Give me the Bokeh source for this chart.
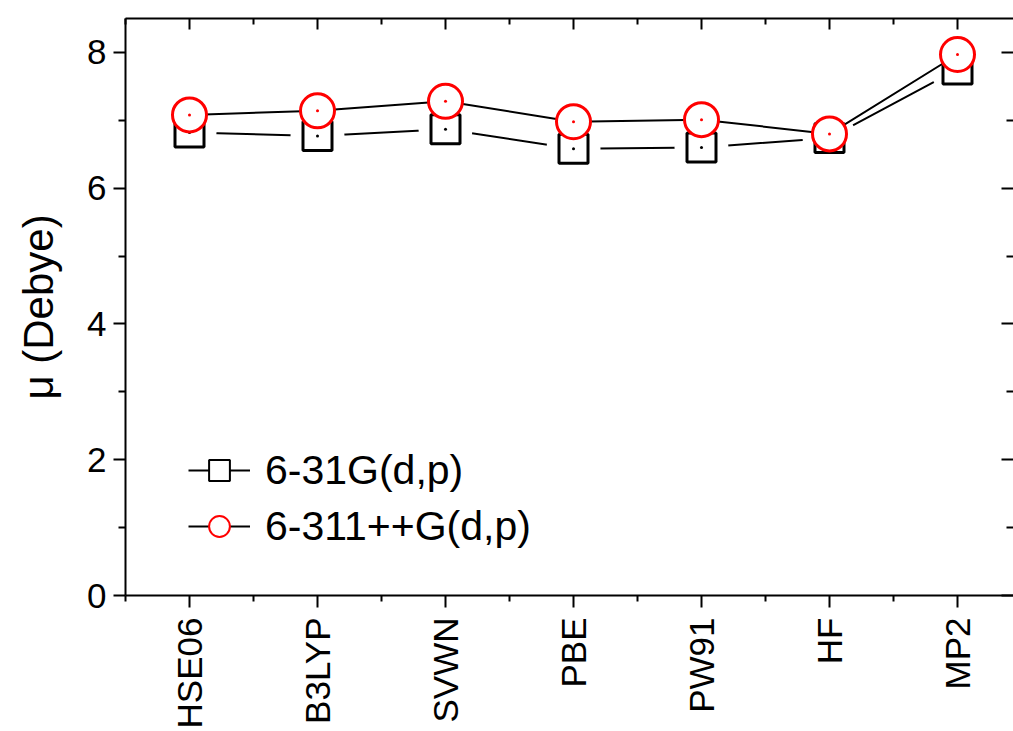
import numpy as np
from bokeh.plotting import figure
from bokeh.models import (FixedTicker, LinearAxis, Range1d, ColumnDataSource,
                          Legend, LegendItem, Grid)
from bokeh.embed import file_html
from bokeh.resources import INLINE

# ---- data ----
methods = ["HSE06", "B3LYP", "SVWN", "PBE", "PW91", "HF", "MP2"]
mu_631 = [6.82, 6.77, 6.87, 6.58, 6.60, 6.74, 7.75]
mu_6311 = [7.08, 7.14, 7.28, 6.98, 7.01, 6.80, 7.97]
series_names = ["6-31G(d,p)", "6-311++G(d,p)"]
y_ticks = [0, 2, 4, 6, 8]
y_minor = [1, 3, 5, 7]
y_title = "μ (Debye)"

FONT = "Liberation Sans"
xs = list(range(len(methods)))

p = figure(width=1013, height=731,
           x_range=Range1d(-0.5, 6.4375), y_range=Range1d(0, 8.5),
           output_backend="svg", toolbar_location=None,
           x_axis_location=None, y_axis_location=None,
           min_border_left=125, min_border_right=0,
           min_border_top=18, min_border_bottom=134)
p.outline_line_color = None
p.background_fill_color = "white"
p.border_fill_color = "white"
for g in p.select(type=Grid):
    g.visible = False

xticker = FixedTicker(ticks=xs, minor_ticks=[i - 0.5 for i in range(len(methods) + 1)])
yticker = FixedTicker(ticks=y_ticks, minor_ticks=y_minor)

common = dict(axis_line_width=2, axis_line_color="black",
              major_tick_line_width=2, minor_tick_line_width=2,
              major_tick_line_color="black", minor_tick_line_color="black")
hidden = dict(major_label_text_color=None, major_label_text_font_size="1px",
              major_label_standoff=0)

bottom = LinearAxis(ticker=xticker,
                    major_label_overrides={i: m for i, m in zip(xs, methods)},
                    major_label_orientation=np.pi / 2,
                    major_label_text_font=FONT, major_label_text_font_size="35px",
                    major_label_text_color="black",
                    major_tick_out=12, major_tick_in=0,
                    minor_tick_out=6, minor_tick_in=0,
                    major_label_standoff=10, **common)
p.add_layout(bottom, "below")

left = LinearAxis(ticker=yticker, major_tick_out=12, major_tick_in=0,
                  minor_tick_out=7, minor_tick_in=0,
                  major_label_standoff=7,
                  major_label_text_font=FONT, major_label_text_font_size="35px",
                  major_label_text_color="black",
                  axis_label=y_title, axis_label_text_font=FONT,
                  axis_label_text_font_size="42px",
                  axis_label_text_font_style="normal",
                  axis_label_text_color="black",
                  axis_label_standoff=22, **common)
p.add_layout(left, "left")

top = LinearAxis(ticker=xticker, major_tick_in=11, major_tick_out=0,
                 minor_tick_in=6, minor_tick_out=0, **hidden, **common)
p.add_layout(top, "above")

right = LinearAxis(ticker=yticker, major_tick_in=12, major_tick_out=0,
                   minor_tick_in=7, minor_tick_out=0, **hidden, **common)
right.axis_line_color = None
p.add_layout(right, "right")

src = ColumnDataSource(dict(x=xs, a=mu_631, b=mu_6311))

# series 1: 6-31G(d,p)
p.line("x", "a", source=src, line_color="black", line_width=2)
p.scatter("x", "a", source=src, marker="circle", size=54,
          fill_color="white", line_color=None)
p.scatter("x", "a", source=src, marker="square", size=29,
          fill_color="white", line_color="black", line_width=3)
p.scatter("x", "a", source=src, marker="circle", size=3,
          fill_color="black", line_color=None)

# series 2: 6-311++G(d,p)
p.line("x", "b", source=src, line_color="black", line_width=2)
p.scatter("x", "b", source=src, marker="circle", size=34,
          fill_color="white", line_color="red", line_width=3)
p.scatter("x", "b", source=src, marker="circle", size=3,
          fill_color="red", line_color=None)

# legend glyphs
leg_src = ColumnDataSource(dict(x=[np.nan], y=[np.nan]))
l1 = p.line("x", "y", source=leg_src, line_color="black", line_width=2)
m1 = p.scatter("x", "y", source=leg_src, marker="square",
               fill_color="white", line_color="black", line_width=2)
l2 = p.line("x", "y", source=leg_src, line_color="black", line_width=2)
m2 = p.scatter("x", "y", source=leg_src, marker="circle",
               fill_color="white", line_color="red", line_width=2)

legend = Legend(items=[LegendItem(label=series_names[0], renderers=[l1, m1]),
                       LegendItem(label=series_names[1], renderers=[l2, m2])],
                location=(63, 43), glyph_width=62, glyph_height=52,
                label_height=52, label_standoff=15, spacing=4,
                padding=0, margin=0, border_line_color=None,
                background_fill_alpha=0,
                label_text_font=FONT, label_text_font_size="41px",
                label_text_color="black")
p.add_layout(legend)

open("out.html", "w").write(file_html(p, INLINE))
